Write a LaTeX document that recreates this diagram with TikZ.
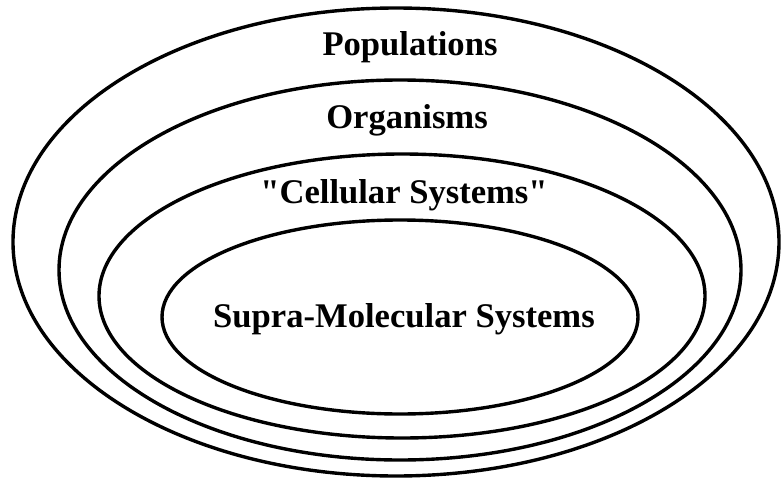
\documentclass[tikz,border=0pt]{standalone}
\usepackage{fontspec}
\setmainfont{Liberation Serif}
\usetikzlibrary{shapes.geometric,positioning}
\tikzset{
  ring/.style={draw, ellipse, line width=3.4pt, inner sep=0pt},
  ringlabel/.style={anchor=base, inner sep=0pt,
                    font=\fontsize{34.6}{40}\selectfont\bfseries}
}

\begin{document}
\begin{tikzpicture}[x=1pt,y=-1pt]
\useasboundingbox (0,0) rectangle (782,479);
\node[ring, minimum width=766pt, minimum height=468pt] (pop) at (396,242) {};
\node[ring, minimum width=682pt, minimum height=380pt] (org) at (400,270) {};
\node[ring, minimum width=606pt, minimum height=284pt] (cell) at (402,296) {};
\node[ring, minimum width=476pt, minimum height=194pt] (supra) at (400,317) {};
\node[ringlabel] (poplabel) at (410,55) {Populations};
\node[ringlabel] (orglabel) at (407,128) {Organisms};
\node[ringlabel] (celllabel) at (404,203) {\textquotedbl Cellular Systems\textquotedbl};
\node[ringlabel] (supralabel) at (404,327) {Supra-Molecular Systems};
\end{tikzpicture}
\end{document}
